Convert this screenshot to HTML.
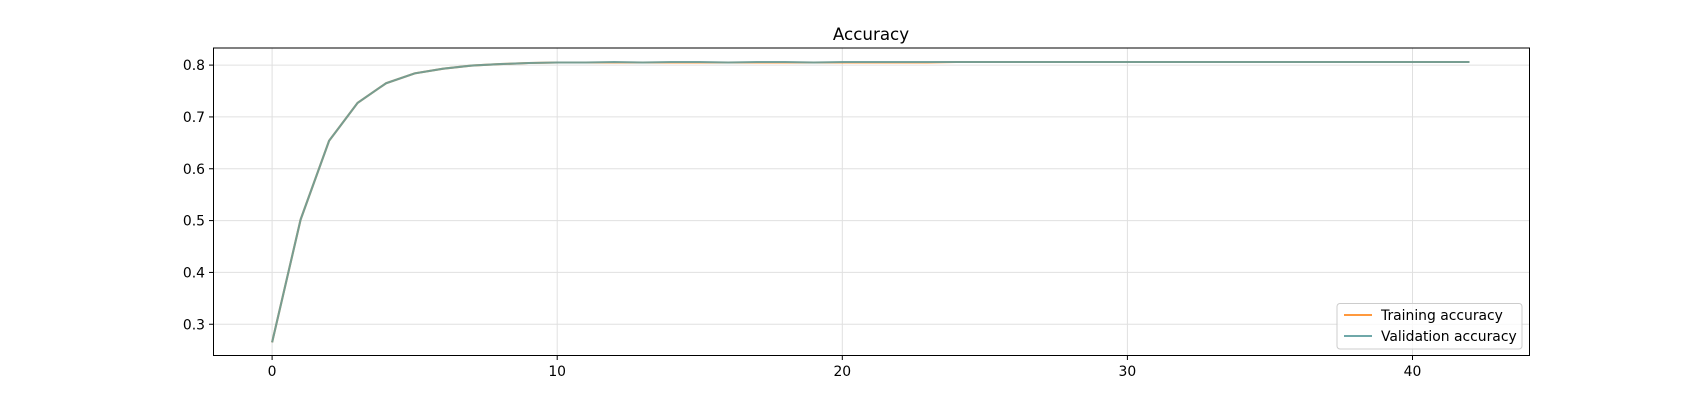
<!DOCTYPE html>
<html><head><meta charset="utf-8"><style>
body{margin:0;background:#fff;}
svg text{font-family:"DejaVu Sans","Liberation Sans",sans-serif;font-size:13.9px;fill:#000;}
</style></head><body>
<svg id="chart" width="1700" height="400" xmlns="http://www.w3.org/2000/svg">
<rect width="1700" height="400" fill="#fff"/>
<text x="871" y="40" text-anchor="middle" style="font-size:16.7px">Accuracy</text>
<g id="grid"></g>
<g id="lines"></g>
<rect x="213.5" y="48" width="1316" height="307.5" fill="none" stroke="#000" stroke-width="1"/>
<g id="ticks"></g>
<g>
<rect x="1337" y="303.5" width="185" height="45.5" rx="3" fill="#fff" fill-opacity="0.8" stroke="#ccc"/>
<line x1="1344" x2="1372" y1="315" y2="315" stroke="#ff7f0e" stroke-opacity="0.8" stroke-width="2"/>
<text x="1381" y="320">Training accuracy</text>
<line x1="1344" x2="1372" y1="336" y2="336" stroke="#5f9ea0" stroke-opacity="0.9" stroke-width="2"/>
<text x="1381" y="341">Validation accuracy</text>
</g>
</svg>
<script>
const epochs=[];for(let i=0;i<=42;i++)epochs.push(i);
const trainAcc=[0.265,0.502,0.654,0.727,0.765,0.784,0.793,0.799,0.802,0.804,0.805,0.805,0.805,0.805,0.805,0.805,0.805,0.805,0.805,0.805,0.805,0.805,0.805,0.805,0.806,0.806,0.806,0.806,0.806,0.806,0.806,0.806,0.806,0.806,0.806,0.806,0.806,0.806,0.806,0.806,0.806,0.806,0.806];
const valAcc=[0.265,0.502,0.654,0.727,0.765,0.784,0.793,0.799,0.802,0.804,0.805,0.805,0.806,0.805,0.806,0.806,0.805,0.806,0.806,0.805,0.806,0.806,0.806,0.806,0.806,0.806,0.806,0.806,0.806,0.806,0.806,0.806,0.806,0.806,0.806,0.806,0.806,0.806,0.806,0.806,0.806,0.806,0.806];
const xTicks=[0,10,20,30,40];
const yTicks=[0.3,0.4,0.5,0.6,0.7,0.8];
const NS="http://www.w3.org/2000/svg";
const xs=v=>272.1+v*28.51;
const ys=v=>65.1-(v-0.8)*518.3;
const grid=document.getElementById('grid'),ticks=document.getElementById('ticks'),lines=document.getElementById('lines');
function mk(t,a,p){const e=document.createElementNS(NS,t);for(const k in a)e.setAttribute(k,a[k]);p.appendChild(e);return e;}
xTicks.forEach(v=>{
const g=mk('line',{x1:xs(v),x2:xs(v),y1:48,y2:355.5,stroke:'#e0e0e0','stroke-width':1},grid);


const t=mk('line',{x1:xs(v),x2:xs(v),y1:355.5,y2:360,stroke:'#000'},ticks);


const l=mk('text',{x:xs(v),y:376,'text-anchor':'middle'},ticks);l.textContent=v;


});
yTicks.forEach(v=>{
const g=mk('line',{x1:213.5,x2:1529.5,y1:ys(v),y2:ys(v),stroke:'#e0e0e0','stroke-width':1},grid);


const t=mk('line',{x1:209,x2:213.5,y1:ys(v),y2:ys(v),stroke:'#000'},ticks);


const l=mk('text',{x:205,y:ys(v)+5,'text-anchor':'end'},ticks);l.textContent=v.toFixed(1);


});
function path(d){return d.map((v,i)=>(i?'L':'M')+xs(epochs[i]).toFixed(1)+','+ys(v).toFixed(1)).join('');}
const p1=mk('path',{d:path(trainAcc),fill:'none',stroke:'#ff7f0e','stroke-opacity':0.8,'stroke-width':2.1},lines);


const p2=mk('path',{d:path(valAcc),fill:'none',stroke:'#5f9ea0','stroke-opacity':0.85,'stroke-width':2.1},lines);


</script>
</body></html>
